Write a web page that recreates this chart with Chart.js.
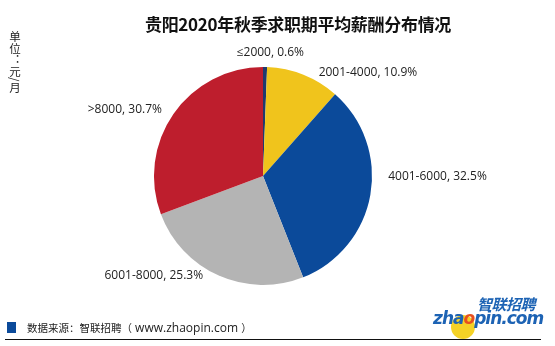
<!DOCTYPE html>
<html>
<head>
<meta charset="utf-8">
<script src="https://cdn.jsdelivr.net/npm/chart.js@4/dist/chart.umd.min.js"></script>
<style>
  body { margin:0; background:#fff; }
  #wrap { position:relative; width:555px; height:346px; overflow:hidden; font-family:"Noto Sans CJK SC", sans-serif; }
  #pie { position:absolute; left:0; top:0; }
  #title { position:absolute; left:0; width:596px; top:11px; text-align:center; font-size:17px; font-weight:bold; color:#111; letter-spacing:-0.3px; }
  #unit { position:absolute; left:8px; top:31px; width:14px; font-size:11.5px; line-height:14px; color:#222; writing-mode:vertical-rl; }
  #src { position:absolute; left:7px; top:319px; font-size:12px; color:#222; font-family:"Open Sans", sans-serif; white-space:nowrap; }
  #src i { display:inline-block; width:9px; height:11px; background:#0b4a9a; vertical-align:-1px; margin-right:11px; }
  #src .cn { font-family:"Noto Sans CJK SC", sans-serif; font-size:10.5px; }
  #rule { position:absolute; left:5px; top:339px; width:536px; height:1px; background:#111; }
  #logo { position:absolute; left:433px; top:292px; width:104px; height:50px; }
  #logo .cn { position:absolute; right:2px; top:1px; font-size:15px; font-weight:bold; font-style:italic; color:#1d63b4; letter-spacing:-0.5px; }
  #logo .dot { position:absolute; left:18px; top:23px; width:24px; height:24px; border-radius:50%; background:#f5d226; }
  #logo .en { position:absolute; left:0; top:16px; font-family:"DejaVu Sans", sans-serif; font-size:17px; font-weight:bold; font-style:italic; color:#1d63b4; letter-spacing:-1px; }
  #logo .en b { color:#e8501e; }
</style>
</head>
<body>
<div id="wrap">
  <canvas id="pie" width="555" height="346"></canvas>
  <div id="title">贵阳2020年秋季求职期平均薪酬分布情况</div>
  <div id="unit">单位：元/月</div>
  <div id="src"><i></i><span class="cn">数据来源：智联招聘（</span> www.zhaopin.com <span class="cn">）</span></div>
  <div id="rule"></div>
  <div id="logo"><div class="dot"></div><div class="en">zha<b>o</b>pin.com</div><div class="cn">智联招聘</div></div>
</div>
<script>
var salaryRanges = ['≤2000', '2001-4000', '4001-6000', '6001-8000', '>8000'];
var shares = [0.6, 10.9, 32.5, 25.3, 30.7]; // 百分比
var sliceColors = ['#1f3a6e', '#f0c41c', '#0b4a9a', '#b4b4b4', '#be1e2d'];

// 标签位置微调 (dx, dy)，避免和扇区挤在一起
var labelNudge = [[5, 0], [10, 11], [4, -21], [-10, -13], [0, 4]];

// 扇区外侧标签：区间, 百分比
var outerLabels = {
  id: 'outerLabels',
  afterDatasetsDraw: function (chart) {
    var ctx = chart.ctx;
    var meta = chart.getDatasetMeta(0);
    ctx.save();
    ctx.font = '12px "Open Sans", sans-serif';
    ctx.fillStyle = '#222';
    ctx.textBaseline = 'middle';
    meta.data.forEach(function (arc, i) {
      var mid = (arc.startAngle + arc.endAngle) / 2;
      var r = arc.outerRadius + 14;
      var x = arc.x + Math.cos(mid) * r + labelNudge[i][0];
      var y = arc.y + Math.sin(mid) * r + labelNudge[i][1];
      var c = Math.cos(mid);
      if (Math.abs(c) < 0.15) ctx.textAlign = 'center';
      else ctx.textAlign = c > 0 ? 'left' : 'right';
      ctx.fillText(salaryRanges[i] + ', ' + shares[i] + '%', x, y);
    });
    ctx.restore();
  }
};

window.onload = function () {
  var ctx = document.getElementById('pie').getContext('2d');
  new Chart(ctx, {
    type: 'pie',
    data: {
      labels: salaryRanges,
      datasets: [{
        data: shares,
        backgroundColor: sliceColors,
        borderWidth: 0
      }]
    },
    options: {
      responsive: false,
      animation: false,
      layout: { padding: { left: 100, right: 129, top: 67, bottom: 61 } },
      plugins: { legend: { display: false }, tooltip: { enabled: false } }
    },
    plugins: [outerLabels]
  });
};
</script>
</body>
</html>
